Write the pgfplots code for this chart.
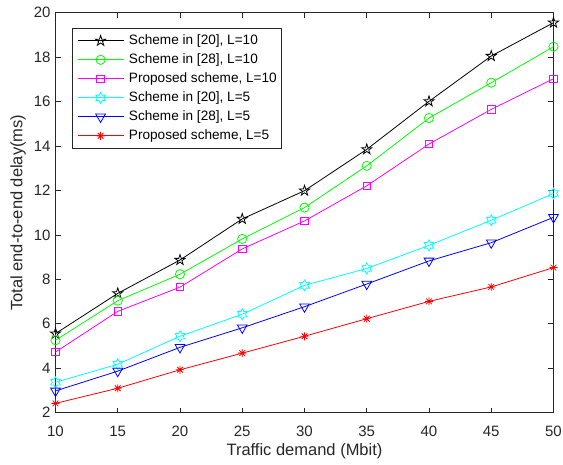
\documentclass[border=0pt]{standalone}
\usepackage{fontspec}
\setmainfont{Liberation Sans}
\usepackage{pgfplots}
\pgfplotsset{compat=1.18}
\definecolor{axgray}{rgb}{0.15,0.15,0.15}
\definecolor{mgreen}{rgb}{0,1,0}
\definecolor{mmag}{rgb}{1,0,1}
\definecolor{mcyan}{rgb}{0,1,1}
\definecolor{mblue}{rgb}{0,0,1}
\definecolor{mred}{rgb}{1,0,0}
\pgfdeclareplotmark{pentagram}{%
 \pgfpathmoveto{\pgfpointpolar{90}{\pgfplotmarksize}}%
 \pgfpathlineto{\pgfpointpolar{126}{0.382\pgfplotmarksize}}%
 \pgfpathlineto{\pgfpointpolar{162}{\pgfplotmarksize}}%
 \pgfpathlineto{\pgfpointpolar{198}{0.382\pgfplotmarksize}}%
 \pgfpathlineto{\pgfpointpolar{234}{\pgfplotmarksize}}%
 \pgfpathlineto{\pgfpointpolar{270}{0.382\pgfplotmarksize}}%
 \pgfpathlineto{\pgfpointpolar{306}{\pgfplotmarksize}}%
 \pgfpathlineto{\pgfpointpolar{342}{0.382\pgfplotmarksize}}%
 \pgfpathlineto{\pgfpointpolar{18}{\pgfplotmarksize}}%
 \pgfpathlineto{\pgfpointpolar{54}{0.382\pgfplotmarksize}}%
 \pgfpathclose
 \pgfusepathqstroke}
\pgfdeclareplotmark{hexagram}{%
 \pgfpathmoveto{\pgfpointpolar{90}{\pgfplotmarksize}}%
 \pgfpathlineto{\pgfpointpolar{120}{0.577\pgfplotmarksize}}%
 \pgfpathlineto{\pgfpointpolar{150}{\pgfplotmarksize}}%
 \pgfpathlineto{\pgfpointpolar{180}{0.577\pgfplotmarksize}}%
 \pgfpathlineto{\pgfpointpolar{210}{\pgfplotmarksize}}%
 \pgfpathlineto{\pgfpointpolar{240}{0.577\pgfplotmarksize}}%
 \pgfpathlineto{\pgfpointpolar{270}{\pgfplotmarksize}}%
 \pgfpathlineto{\pgfpointpolar{300}{0.577\pgfplotmarksize}}%
 \pgfpathlineto{\pgfpointpolar{330}{\pgfplotmarksize}}%
 \pgfpathlineto{\pgfpointpolar{0}{0.577\pgfplotmarksize}}%
 \pgfpathlineto{\pgfpointpolar{30}{\pgfplotmarksize}}%
 \pgfpathlineto{\pgfpointpolar{60}{0.577\pgfplotmarksize}}%
 \pgfpathclose
 \pgfusepathqstroke}
\pgfdeclareplotmark{mstar}{%
 \pgfpathmoveto{\pgfpointpolar{0}{\pgfplotmarksize}}\pgfpathlineto{\pgfpointpolar{180}{\pgfplotmarksize}}%
 \pgfpathmoveto{\pgfpointpolar{45}{\pgfplotmarksize}}\pgfpathlineto{\pgfpointpolar{225}{\pgfplotmarksize}}%
 \pgfpathmoveto{\pgfpointpolar{90}{\pgfplotmarksize}}\pgfpathlineto{\pgfpointpolar{270}{\pgfplotmarksize}}%
 \pgfpathmoveto{\pgfpointpolar{135}{\pgfplotmarksize}}\pgfpathlineto{\pgfpointpolar{315}{\pgfplotmarksize}}%
 \pgfusepathqstroke}
\begin{document}
\begin{tikzpicture}
\path[use as bounding box] (-55.5pt,-51.3pt) rectangle (507.5pt,412.7pt);
\begin{axis}[
  at={(0pt,0pt)}, anchor=south west,
  scale only axis, width=498pt, height=400pt,
  xmin=10, xmax=50, ymin=2, ymax=20,
  xtick={10,15,...,50}, ytick={2,4,...,20},
  tick align=inside, tick pos=both, major tick length=5pt,
  axis line style={draw=axgray, line width=0.8pt},
  major tick style={draw=axgray, line width=0.8pt},
  /pgf/number format/assume math mode=true,
  tick label style={font=\fontsize{15}{18}\selectfont, text=axgray},
  xticklabel style={anchor=center, yshift=-19pt},
  yticklabel style={xshift=-1.5pt},
  label style={font=\fontsize{16.5}{19}\selectfont, text=axgray},
  xlabel={Traffic demand (Mbit)},
  ylabel={Total end-to-end delay(ms)},
  xlabel style={at={(axis description cs:0.5,0)}, anchor=center, yshift=-39pt},
  ylabel style={at={(axis description cs:-0.0753,0.5)}, anchor=center},
  clip=false,
  legend cell align=left,
  legend style={at={(rel axis cs:0.0337,0.961)}, anchor=north west,
    font=\fontsize{13.6}{16}\selectfont, draw=axgray, line width=0.8pt,
    inner xsep=4.5pt, inner ysep=5.4pt, row sep=5.5pt, column sep=5pt,
    nodes={inner sep=0pt, text height=10.5pt, text depth=3pt}},
  legend image code/.code={\draw[mark repeat=2,mark phase=2] plot coordinates {(0pt,0pt)(23pt,0pt)(46pt,0pt)};},
  every axis plot/.append style={line width=0.8pt},
]
\addplot[color=black, mark=pentagram, mark size=5.4pt] coordinates {(10,5.56)(15,7.37)(20,8.87)(25,10.72)(30,11.99)(35,13.85)(40,16.01)(45,18.05)(50,19.55)};
\addlegendentry{Scheme in [20], L=10}
\addplot[color=mgreen, mark=o, mark size=4.6pt] coordinates {(10,5.26)(15,7.04)(20,8.23)(25,9.82)(30,11.23)(35,13.11)(40,15.26)(45,16.85)(50,18.47)};
\addlegendentry{Scheme in [28], L=10}
\addplot[color=mmag, mark=square, mark size=3.7pt] coordinates {(10,4.73)(15,6.56)(20,7.65)(25,9.37)(30,10.63)(35,12.21)(40,14.09)(45,15.65)(50,17.03)};
\addlegendentry{Proposed scheme, L=10}
\addplot[color=mcyan, mark=hexagram, mark size=5.5pt] coordinates {(10,3.37)(15,4.18)(20,5.44)(25,6.43)(30,7.73)(35,8.49)(40,9.53)(45,10.66)(50,11.86)};
\addlegendentry{Scheme in [20], L=5}
\addplot[color=mblue, mark=triangle, mark size=5.6pt, mark options={rotate=180}] coordinates {(10,2.98)(15,3.87)(20,4.94)(25,5.82)(30,6.77)(35,7.79)(40,8.83)(45,9.65)(50,10.79)};
\addlegendentry{Scheme in [28], L=5}
\addplot[color=mred, mark=mstar, mark size=4pt] coordinates {(10,2.42)(15,3.10)(20,3.93)(25,4.68)(30,5.44)(35,6.23)(40,7.01)(45,7.66)(50,8.53)};
\addlegendentry{Proposed scheme, L=5}
\end{axis}
\end{tikzpicture}
\end{document}
